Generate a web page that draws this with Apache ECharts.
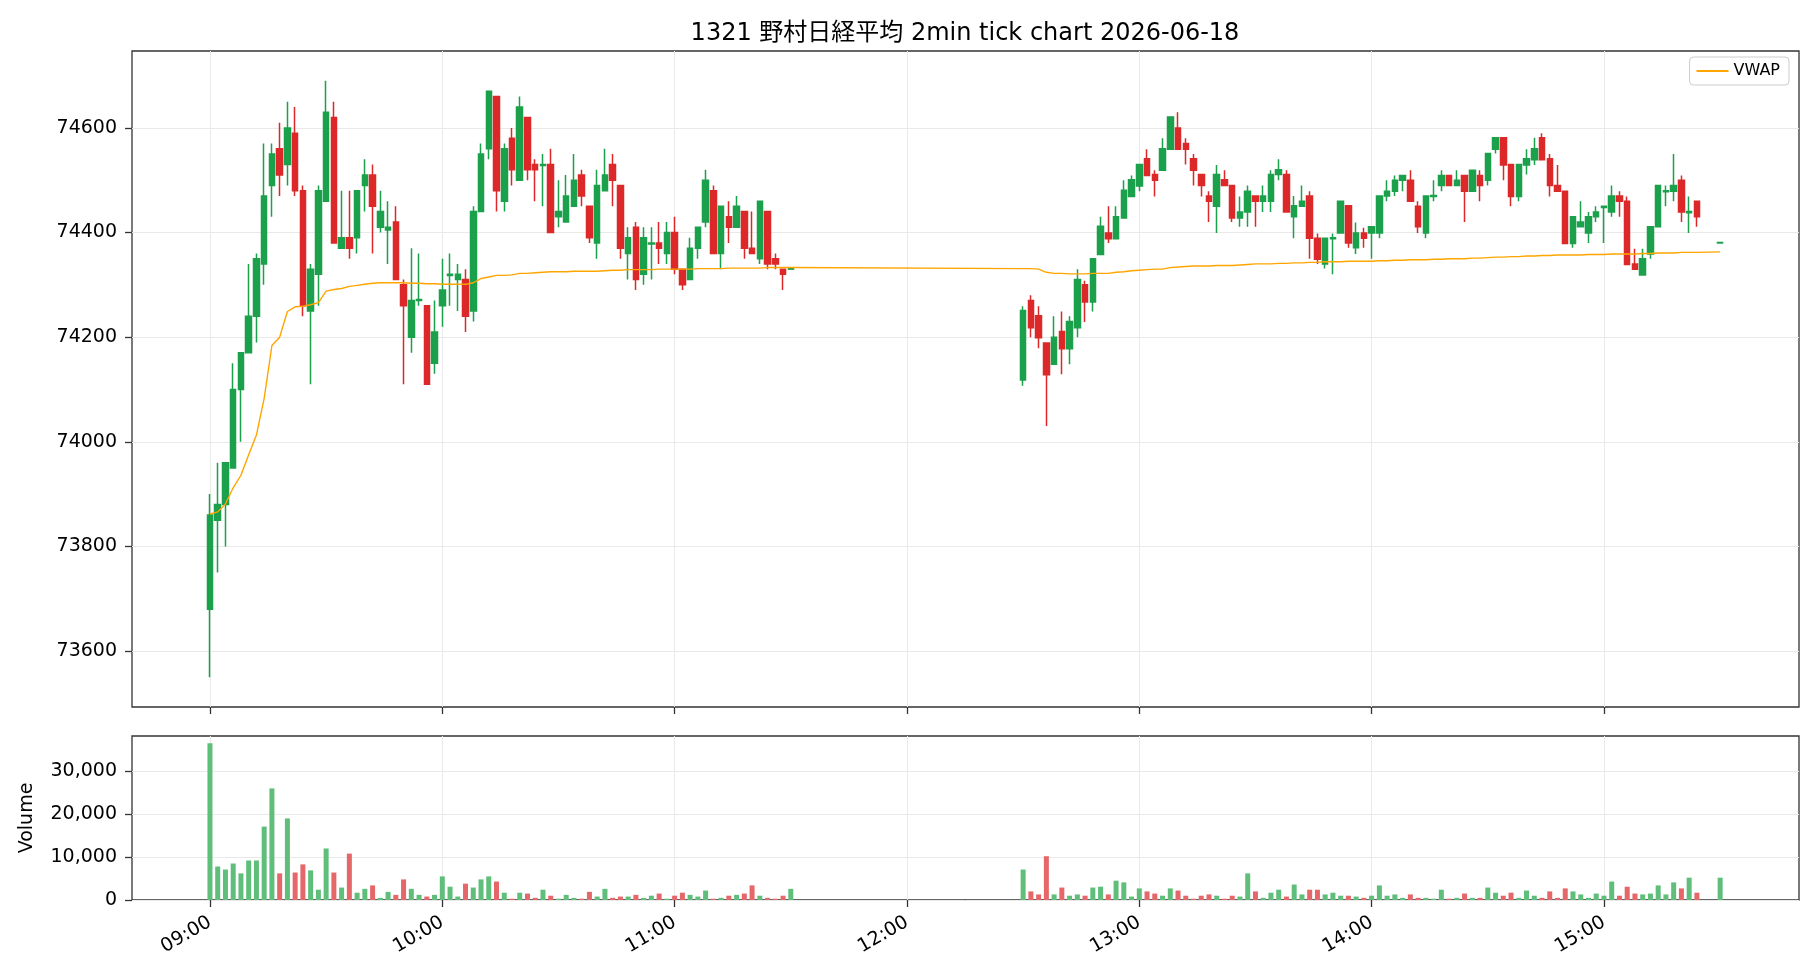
<!DOCTYPE html>
<html>
<head>
<meta charset="utf-8">
<script src="https://cdn.jsdelivr.net/npm/echarts@6/dist/echarts.min.js"></script>
<style>
  html, body { margin: 0; padding: 0; background: #fff; }
  #chart { width: 1820px; height: 980px; }
</style>
</head>
<body>
<div id="chart"></div>
<script>
// 2-min bars, morning session 09:00-11:30, afternoon 12:30-15:30
var times = [].concat(
  '09:00 09:02 09:04 09:06 09:08 09:10 09:12 09:14 09:16 09:18 09:20 09:22 09:24 09:26 09:28 09:30 09:32 09:34 09:36 09:38 09:40 09:42 09:44 09:46 09:48 09:50 09:52 09:54 09:56 09:58'.split(' '),
  '10:00 10:02 10:04 10:06 10:08 10:10 10:12 10:14 10:16 10:18 10:20 10:22 10:24 10:26 10:28 10:30 10:32 10:34 10:36 10:38 10:40 10:42 10:44 10:46 10:48 10:50 10:52 10:54 10:56 10:58'.split(' '),
  '11:00 11:02 11:04 11:06 11:08 11:10 11:12 11:14 11:16 11:18 11:20 11:22 11:24 11:26 11:28 11:30'.split(' '),
  '12:30 12:32 12:34 12:36 12:38 12:40 12:42 12:44 12:46 12:48 12:50 12:52 12:54 12:56 12:58'.split(' '),
  '13:00 13:02 13:04 13:06 13:08 13:10 13:12 13:14 13:16 13:18 13:20 13:22 13:24 13:26 13:28 13:30 13:32 13:34 13:36 13:38 13:40 13:42 13:44 13:46 13:48 13:50 13:52 13:54 13:56 13:58'.split(' '),
  '14:00 14:02 14:04 14:06 14:08 14:10 14:12 14:14 14:16 14:18 14:20 14:22 14:24 14:26 14:28 14:30 14:32 14:34 14:36 14:38 14:40 14:42 14:44 14:46 14:48 14:50 14:52 14:54 14:56 14:58'.split(' '),
  '15:00 15:02 15:04 15:06 15:08 15:10 15:12 15:14 15:16 15:18 15:20 15:22 15:24 15:30'.split(' ')
);

var opens = [
  73680,73850,73880,73950,74100,74170,74240,74340,74490,74560,
  74530,74590,74480,74250,74320,74460,74620,74370,74390,74390,
  74490,74510,74410,74405,74420,74300,74200,74270,74260,74150,
  74260,74318,74310,74310,74250,74440,74560,74660,74460,74580,
  74500,74620,74530,74528,74530,74430,74420,74450,74510,74450,
  74380,74480,74530,74490,74360,74410,74320,74378,74380,74360,
  74400,74330,74310,74370,74420,74480,74360,74430,74410,74440,
  74370,74350,74440,74350,74330,74330,
  74118,74270,74241,74189,74148,74211,74178,74218,74300,74267,
  74358,74399,74388,74428,74469,74489,74541,74511,74519,74559,
  74600,74570,74541,74511,74470,74450,74501,74490,74428,74439,
  74470,74460,74460,74511,74511,74430,74450,74470,74389,74340,
  74388,74399,74451,74371,74399,74399,74399,74470,74479,74500,
  74500,74450,74399,74469,74490,74509,74490,74509,74479,74509,
  74500,74559,74581,74530,74469,74529,74539,74581,74541,74490,
  74479,74379,74411,74399,74430,74448,74439,74470,74460,74340,
  74319,74359,74411,74478,74479,74500,74438,74460,
  74380
];
var closes = [
  73860,73880,73960,74100,74170,74240,74350,74470,74550,74510,
  74600,74480,74260,74330,74480,74630,74380,74390,74370,74480,
  74510,74450,74440,74410,74310,74260,74270,74272,74110,74210,
  74290,74320,74320,74240,74440,74550,74670,74480,74560,74520,
  74640,74520,74520,74530,74400,74440,74470,74500,74470,74390,
  74490,74510,74500,74370,74390,74310,74390,74380,74370,74400,
  74330,74300,74370,74410,74500,74360,74450,74410,74450,74370,
  74360,74460,74340,74340,74320,74332,
  74251,74218,74199,74128,74200,74178,74230,74310,74267,74350,
  74412,74388,74430,74481,74501,74530,74509,74500,74560,74621,
  74559,74559,74519,74490,74460,74511,74490,74428,74439,74479,
  74460,74470,74511,74520,74439,74451,74460,74389,74349,74389,
  74390,74460,74380,74399,74389,74411,74470,74479,74500,74509,
  74460,74411,74470,74471,74509,74490,74500,74479,74519,74490,
  74551,74581,74529,74469,74530,74541,74560,74539,74490,74479,
  74379,74430,74420,74430,74439,74450,74470,74460,74339,74330,
  74350,74411,74490,74480,74490,74439,74440,74430,
  74381
];
var lows = [
  73550,73750,73800,73950,74000,74170,74190,74300,74430,74470,
  74490,74470,74240,74110,74260,74460,74380,74370,74350,74360,
  74440,74360,74400,74340,74310,74110,74170,74260,74110,74130,
  74220,74260,74250,74210,74230,74440,74540,74440,74440,74490,
  74500,74500,74460,74450,74400,74410,74420,74450,74450,74380,
  74350,74480,74450,74350,74310,74290,74300,74310,74340,74340,
  74320,74290,74310,74350,74410,74360,74330,74380,74410,74350,
  74360,74340,74330,74330,74290,74330,
  74107,74200,74179,74030,74148,74129,74148,74200,74229,74249,
  74358,74380,74388,74428,74469,74479,74509,74469,74519,74559,
  74559,74530,74490,74469,74420,74399,74490,74420,74411,74411,
  74411,74439,74439,74500,74439,74389,74450,74350,74340,74331,
  74320,74399,74371,74359,74371,74350,74389,74460,74470,74479,
  74460,74399,74389,74460,74479,74490,74490,74420,74479,74460,
  74490,74551,74500,74450,74460,74511,74529,74539,74469,74479,
  74379,74371,74411,74380,74420,74380,74430,74430,74339,74330,
  74319,74350,74411,74450,74460,74420,74399,74411,
  74380
];
var highs = [
  73900,73960,73960,74150,74170,74340,74360,74570,74570,74610,
  74650,74640,74490,74340,74490,74690,74650,74480,74480,74480,
  74540,74530,74480,74460,74450,74310,74370,74360,74260,74270,
  74350,74360,74340,74330,74450,74570,74670,74660,74570,74600,
  74660,74620,74540,74550,74560,74500,74510,74550,74520,74450,
  74520,74560,74550,74490,74410,74420,74410,74410,74420,74420,
  74430,74330,74390,74410,74520,74490,74450,74460,74470,74440,
  74440,74460,74440,74360,74330,74332,
  74259,74280,74259,74189,74240,74249,74240,74330,74308,74350,
  74430,74450,74450,74500,74509,74530,74559,74519,74580,74621,
  74630,74580,74550,74511,74479,74529,74519,74490,74469,74490,
  74470,74490,74519,74540,74519,74470,74490,74479,74398,74389,
  74398,74460,74451,74419,74409,74411,74470,74500,74509,74509,
  74519,74460,74470,74500,74519,74509,74519,74509,74519,74519,
  74551,74581,74581,74530,74530,74559,74581,74590,74550,74529,
  74479,74430,74460,74439,74450,74450,74490,74479,74469,74369,
  74369,74411,74490,74490,74550,74509,74469,74460,
  74381
];
var volumes = [
  36500,7800,7100,8500,6200,9200,9200,17100,26000,6200,
  19000,6400,8300,6900,2400,12000,6400,2900,10800,1700,
  2600,3400,500,1900,1200,4800,2600,1200,800,1200,
  5500,3100,800,3800,2900,4800,5500,4300,1700,300,
  1700,1500,500,2400,1000,300,1200,500,300,1900,
  800,2600,500,800,800,1200,500,1000,1500,300,
  1000,1700,1200,800,2200,300,500,1000,1200,1500,
  3400,1000,500,300,1000,2600,
  7100,2000,1300,10200,1300,2900,1000,1300,1000,2900,
  3100,1300,4500,4100,800,2700,2000,1500,1000,2700,
  2200,1000,300,1000,1300,1000,300,1000,800,6200,
  2000,500,1700,2400,800,3600,1300,2400,2400,1300,
  1700,1000,1000,800,500,1000,3400,1000,1300,500,
  1300,500,500,300,2400,300,500,1500,500,500,
  2900,1700,1000,1700,500,2200,1000,500,2000,500,
  2700,2000,1300,500,1500,1000,4300,1000,3100,1500,
  1300,1500,3400,1300,4100,2700,5200,1700,
  5200
];
var vwap = [
  73862,73866,73881,73912,73936,73975,74013,74083,74184,74200,
  74249,74258,74259,74262,74266,74288,74291,74293,74297,74299,
  74301,74303,74304,74304,74304,74304,74303,74303,74302,74302,
  74301,74301,74301,74301,74304,74312,74315,74318,74318,74319,
  74322,74322,74323,74324,74325,74325,74325,74326,74326,74326,
  74326,74327,74328,74328,74329,74329,74329,74329,74330,74330,
  74330,74330,74330,74331,74331,74331,74331,74332,74332,74332,
  74332,74332,74333,74333,74333,74333,
  74331,74331,74330,74324,74322,74322,74321,74321,74321,74322,
  74322,74322,74324,74325,74327,74328,74329,74330,74330,74333,
  74334,74335,74336,74336,74336,74337,74337,74337,74338,74339,
  74340,74340,74340,74341,74341,74342,74342,74343,74343,74344,
  74344,74344,74345,74345,74345,74345,74346,74346,74347,74347,
  74348,74348,74348,74349,74349,74350,74350,74350,74351,74351,
  74352,74353,74353,74354,74354,74355,74355,74356,74356,74357,
  74357,74357,74357,74358,74358,74358,74359,74359,74359,74359,
  74360,74360,74361,74361,74361,74362,74362,74362,
  74363
];
var hourLabels = ['09:00', '10:00', '11:00', '12:00', '13:00', '14:00', '15:00'];
var priceTicks = [73600, 73800, 74000, 74200, 74400, 74600];
var volTicks = [0, 10000, 20000, 30000];

var UP = '#1ba04b', DOWN = '#dc2828';
var VOL_UP = '#5ebe7a', VOL_DOWN = '#e5676a';
var FONT = 'DejaVu Sans, "Noto Sans CJK JP", sans-serif';
var GRID_LINE = '#e9e9e9';

// x values are minutes since midnight (plain value axis)
function mins(s) {
  var p = s.split(':');
  return +p[0] * 60 + +p[1];
}
function pad(n) { return (n < 10 ? '0' : '') + n; }
function fmtTime(v) { v = Math.round(v); return pad(Math.floor(v / 60)) + ':' + pad(v % 60); }
function fmtComma(v) { return String(v).replace(/\B(?=(\d{3})+(?!\d))/g, ','); }

var xs = times.map(mins);
var hourTicks = hourLabels.map(mins);
var candleData = xs.map(function (t, i) { return [t, opens[i], closes[i], lows[i], highs[i]]; });
var volData = xs.map(function (t, i) {
  return { value: [t, volumes[i]], itemStyle: { color: closes[i] >= opens[i] ? VOL_UP : VOL_DOWN } };
});
var vwapData = xs.map(function (t, i) { return [t, vwap[i]]; });

var xMin = mins('08:39') + 52 / 60, xMax = mins('15:50') + 22 / 60;

function xAxisFor(grid, showLabel) {
  return {
    type: 'value', gridIndex: grid, min: xMin, max: xMax,
    axisLine: { show: false },
    axisTick: { show: true, inside: false, length: 7, customValues: hourTicks,
      lineStyle: { color: '#333', width: 1.3 } },
    axisLabel: { show: showLabel, customValues: hourTicks, rotate: 30, margin: 21,
      fontSize: 19, fontFamily: FONT, color: '#000', formatter: fmtTime },
    splitLine: { show: true, lineStyle: { color: GRID_LINE, width: 1 } }
  };
}

var chart = echarts.init(document.getElementById('chart'), null, { renderer: 'canvas' });

var option = {
  animation: false,
  backgroundColor: '#fff',
  title: {
    text: '1321 野村日経平均 2min tick chart 2026-06-18',
    left: 965, top: 22, textAlign: 'center', padding: 0,
    textStyle: { fontSize: 24, fontWeight: 'normal', color: '#000', fontFamily: FONT }
  },
  legend: {
    data: [{ name: 'VWAP', icon: 'rect' }],
    right: 31, top: 57, padding: [6, 9, 6, 7],
    itemWidth: 32, itemHeight: 2, itemGap: 10,
    borderColor: '#cccccc', borderWidth: 1, borderRadius: 4,
    textStyle: { fontSize: 16, color: '#000', fontFamily: FONT }
  },
  grid: [
    { left: 132, top: 51, width: 1667, height: 656, show: true, borderColor: '#333',
      borderWidth: 1.3, backgroundColor: 'transparent', outerBoundsMode: 'none' },
    { left: 132, top: 736, width: 1667, height: 164, show: true, borderColor: '#333',
      borderWidth: 1.3, backgroundColor: 'transparent', outerBoundsMode: 'none' }
  ],
  xAxis: [xAxisFor(0, false), xAxisFor(1, true)],
  yAxis: [
    {
      type: 'value', gridIndex: 0, min: 73493, max: 74747,
      axisLine: { show: false },
      axisTick: { show: true, length: 7, customValues: priceTicks, lineStyle: { color: '#333', width: 1.3 } },
      axisLabel: { customValues: priceTicks, margin: 15, fontSize: 19, fontFamily: FONT, color: '#000',
        formatter: function (v) { return String(v); } },
      splitLine: { show: true, lineStyle: { color: GRID_LINE, width: 1 } }
    },
    {
      type: 'value', gridIndex: 1, min: 0, max: 38200,
      name: 'Volume', nameLocation: 'middle', nameRotate: 90, nameGap: 95,
      nameTextStyle: { fontSize: 19, fontFamily: FONT, color: '#000' },
      axisLine: { show: false },
      axisTick: { show: true, length: 7, customValues: volTicks, lineStyle: { color: '#333', width: 1.3 } },
      axisLabel: { customValues: volTicks, margin: 15, fontSize: 19, fontFamily: FONT, color: '#000',
        formatter: fmtComma },
      splitLine: { show: true, lineStyle: { color: GRID_LINE, width: 1 } }
    }
  ],
  series: [
    {
      name: 'price', type: 'candlestick', xAxisIndex: 0, yAxisIndex: 0,
      data: candleData, encode: { x: 0, y: [1, 2, 3, 4] },
      barWidth: 6,
      itemStyle: { color: UP, color0: DOWN, borderColor: UP, borderColor0: DOWN, borderWidth: 1.5 }
    },
    {
      name: 'VWAP', type: 'line', xAxisIndex: 0, yAxisIndex: 0,
      data: vwapData, showSymbol: false, symbol: 'none', z: 5,
      lineStyle: { color: '#ffa500', width: 1.4 }, itemStyle: { color: '#ffa500' }
    },
    {
      name: 'Volume', type: 'bar', xAxisIndex: 1, yAxisIndex: 1,
      data: volData, barWidth: 5
    }
  ]
};

chart.setOption(option);
</script>
</body>
</html>
